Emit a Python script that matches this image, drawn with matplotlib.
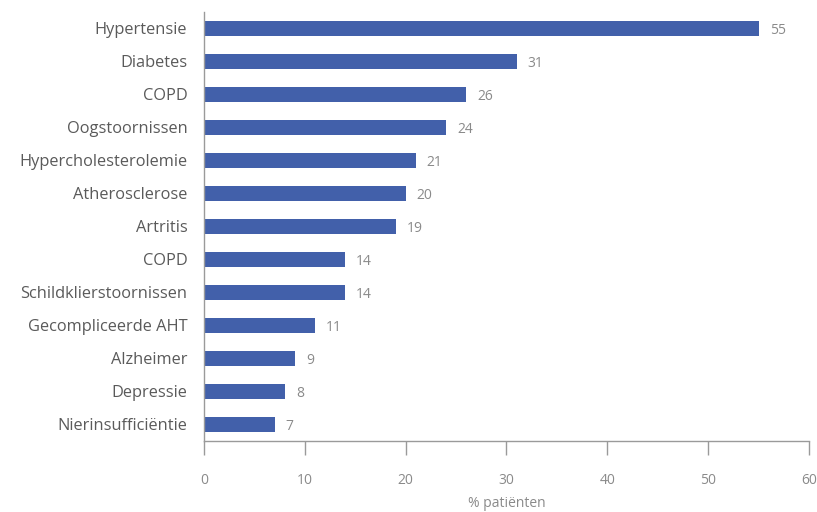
"""Comorbiditeit bij patiënten – horizontale staafgrafiek."""

import matplotlib
import numpy as np

matplotlib.use("Agg")
matplotlib.rcParams["font.family"] = ["Open Sans", "DejaVu Sans"]
import matplotlib.pyplot as plt  # noqa: E402

conditions = [
    "Hypertensie",
    "Diabetes",
    "COPD",
    "Oogstoornissen",
    "Hypercholesterolemie",
    "Atherosclerose",
    "Artritis",
    "COPD",
    "Schildklierstoornissen",
    "Gecompliceerde AHT",
    "Alzheimer",
    "Depressie",
    "Nierinsufficiëntie",
]
percentages = [55, 31, 26, 24, 21, 20, 19, 14, 14, 11, 9, 8, 7]
xticks = [0, 10, 20, 30, 40, 50, 60]

BAR = "#4260aa"
TEXT = "#5a5a5a"
LIGHT = "#8a8a8a"
AXIS = "#9a9a9a"

fig = plt.figure(figsize=(8.17, 5.12), dpi=100)
ax = fig.add_axes([0.2497, 0.1387, 0.7405, 0.838])

y = np.arange(len(conditions))
ax.barh(y, percentages, height=0.47, color=BAR, edgecolor="none")
for yi, v in zip(y, percentages):
    ax.text(v + 1.1, yi + 0.07, f"{v}", va="center", ha="left", fontsize=10, color=LIGHT)

ax.set_ylim(len(conditions) - 0.5, -0.5)
ax.set_xlim(0, 60)
ax.set_yticks(y)
ax.set_yticklabels(conditions, fontsize=11.8, color=TEXT)
ax.tick_params(axis="y", length=0, pad=12)
ax.set_xticks(xticks)
ax.set_xticklabels([str(t) for t in xticks], fontsize=10, color=LIGHT)
ax.tick_params(axis="x", direction="out", length=10, width=1, color=AXIS, pad=13)
ax.set_xlabel("% patiënten", fontsize=10, color=LIGHT, labelpad=6)

for side in ("top", "right"):
    ax.spines[side].set_visible(False)
for side in ("left", "bottom"):
    ax.spines[side].set_color(AXIS)
    ax.spines[side].set_linewidth(1)

fig.savefig("out.png", dpi=100)
